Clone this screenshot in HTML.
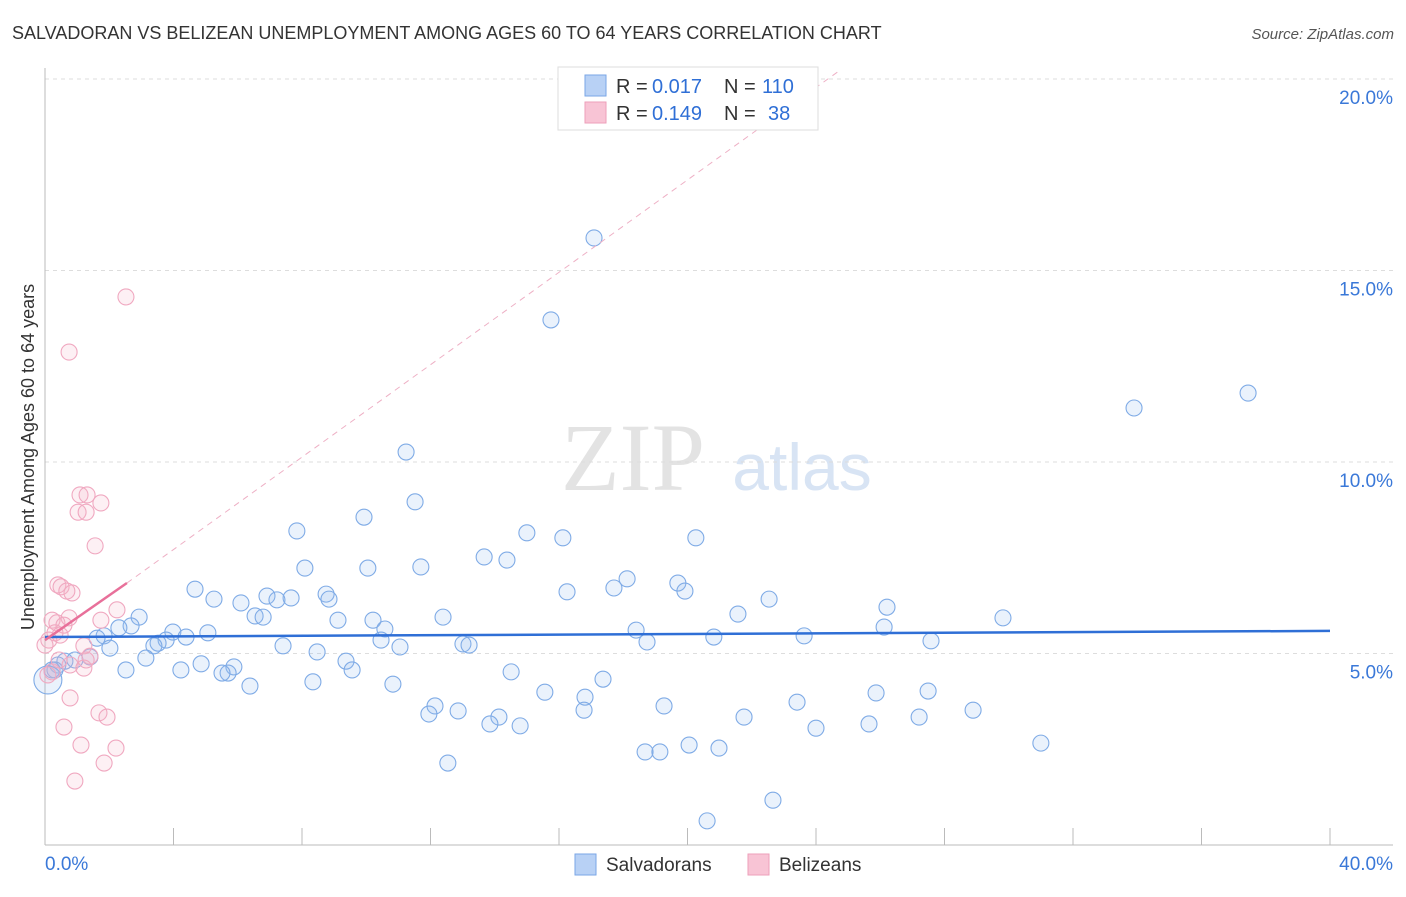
<!DOCTYPE html>
<html><head><meta charset="utf-8"><style>
body{margin:0;background:#fff;font-family:"Liberation Sans",sans-serif;}
svg text{font-family:"Liberation Sans",sans-serif;}
</style></head><body>
<svg id="chart" width="1406" height="892" viewBox="0 0 1406 892" xmlns="http://www.w3.org/2000/svg">
<text x="12" y="39" font-size="18" fill="#333">SALVADORAN VS BELIZEAN UNEMPLOYMENT AMONG AGES 60 TO 64 YEARS CORRELATION CHART</text>
<text x="1394" y="39" font-size="15" fill="#555" text-anchor="end" font-style="italic">Source: ZipAtlas.com</text>
<g>
<text x="633" y="490" font-size="96" fill="#e3e3e3" text-anchor="middle" style="font-family:'Liberation Serif',serif">ZIP</text>
<text x="802" y="490" font-size="66" fill="#d8e4f4" text-anchor="middle">atlas</text>
</g>
<g id="grid"></g>
<g id="axes"></g>
<g id="marks"></g>
<text transform="translate(34,457) rotate(-90)" font-size="18" fill="#333" text-anchor="middle">Unemployment Among Ages 60 to 64 years</text>
<g>
<rect x="558" y="67" width="260" height="63" fill="#fff" stroke="#ddd"/>
<rect x="585" y="75" width="21" height="21" fill="#b8d1f5" stroke="#7aa6e6"/>
<rect x="585" y="102" width="21" height="21" fill="#f8c4d5" stroke="#ee9fba"/>
<text x="616" y="93" font-size="20" fill="#333">R =</text>
<text x="652" y="93" font-size="20" fill="#2f6fd6">0.017</text>
<text x="724" y="93" font-size="20" fill="#333">N =</text>
<text x="762" y="93" font-size="20" fill="#2f6fd6">110</text>
<text x="616" y="120" font-size="20" fill="#333">R =</text>
<text x="652" y="120" font-size="20" fill="#2f6fd6">0.149</text>
<text x="724" y="120" font-size="20" fill="#333">N =</text>
<text x="768" y="120" font-size="20" fill="#2f6fd6">38</text>
</g>
<g>
<rect x="575" y="854" width="21" height="21" fill="#b8d1f5" stroke="#7aa6e6"/>
<text x="606" y="871" font-size="19" fill="#333">Salvadorans</text>
<rect x="748" y="854" width="21" height="21" fill="#f8c4d5" stroke="#ee9fba"/>
<text x="779" y="871" font-size="19" fill="#333">Belizeans</text>
</g>
</svg>
<script>
const yTicks=[5,10,15,20];
const yTickLabels=["5.0%","10.0%","15.0%","20.0%"];
const xTickVals=[0,4,8,12,16,20,24,28,32,36,40];
const blueX=[17.09,15.75,33.90,37.45,11.24,11.52,9.93,7.84,15.00,16.12,20.26,13.67,14.38,8.09,10.05,11.70,18.12,19.70,4.67,16.25,17.71,19.92,8.75,6.91,7.66,5.26,7.22,8.84,6.10,22.54,26.21,2.93,6.54,6.79,9.12,12.39,10.21,21.57,29.82,2.68,26.12,1.84,10.58,18.40,3.98,5.07,2.30,1.62,4.39,3.77,3.52,3.39,10.46,23.63,20.82,27.58,18.74,7.41,13.01,13.20,11.05,2.02,8.47,3.14,9.37,1.40,0.62,0.40,0.93,0.22,4.86,5.88,4.23,9.56,2.52,14.51,5.70,5.51,8.34,17.37,6.38,10.83,15.56,25.87,27.49,16.81,12.14,23.41,19.27,16.78,12.86,28.89,11.95,14.13,21.76,27.21,13.85,14.79,25.65,24.00,31.00,20.05,20.98,18.68,19.14,12.54,22.66,20.61,0.31,0.09];
const blueY=[15.85,13.71,11.41,11.80,10.26,8.96,8.56,8.20,8.15,8.02,8.02,7.52,7.44,7.23,7.23,7.26,6.95,6.84,6.68,6.61,6.71,6.63,6.55,6.50,6.45,6.42,6.40,6.42,6.32,6.42,6.21,5.95,5.98,5.95,5.87,5.95,5.87,6.03,5.93,5.72,5.69,5.46,5.64,5.61,5.56,5.54,5.67,5.40,5.43,5.35,5.27,5.20,5.35,5.46,5.43,5.33,5.30,5.20,5.25,5.22,5.17,5.14,5.04,4.88,4.80,4.91,4.80,4.70,4.83,4.57,4.73,4.65,4.57,4.57,4.57,4.52,4.49,4.49,4.26,4.33,4.15,4.20,3.99,3.97,4.02,3.86,3.63,3.73,3.63,3.52,3.50,3.52,3.42,3.34,3.34,3.34,3.16,3.11,3.16,3.05,2.66,2.61,2.53,2.43,2.43,2.14,1.17,0.63,4.57,4.31];
const pinkX=[2.52,0.75,1.09,1.31,1.74,1.03,1.28,1.56,0.40,0.50,0.84,0.68,2.24,0.75,1.74,0.22,0.37,0.59,0.31,0.12,0.47,1.21,1.40,0.78,1.21,0.22,0.78,1.68,1.93,0.59,1.12,2.21,1.84,0.93,0.09,1.28,0.44,0.0];
const pinkY=[14.31,12.87,9.14,9.14,8.93,8.69,8.69,7.81,6.79,6.74,6.58,6.63,6.14,5.93,5.87,5.87,5.80,5.74,5.54,5.35,5.48,5.20,4.93,4.70,4.62,4.52,3.84,3.45,3.34,3.08,2.61,2.53,2.14,1.67,4.44,4.83,4.83,5.22];
const blueTrend=[[0,5.43],[40,5.59]];
const pinkTrend=[[0,5.35],[2.55,6.84]];
const pinkDash=[[2.55,6.84],[24.7,20.2]];

const NS="http://www.w3.org/2000/svg";
const X0=45,X1=1330,Y0=845,PY=38.3;
const sx=v=>X0+(v/40)*(X1-X0);
const sy=v=>Y0-v*PY;
function mk(tag,attrs,parent){const e=document.createElementNS(NS,tag);for(const k in attrs)e.setAttribute(k,attrs[k]);parent.appendChild(e);return e;}
const grid=document.getElementById('grid'),axes=document.getElementById('axes'),marks=document.getElementById('marks');
yTicks.forEach((t,i)=>{
  const l=mk('line',{x1:X0,x2:1393,y1:sy(t),y2:sy(t),stroke:'#ddd','stroke-dasharray':'4,4'},grid);
  
  
  const tx=mk('text',{x:1393,y:sy(t)+25,'font-size':19,fill:'#3a78d8','text-anchor':'end'},axes);
  tx.textContent=yTickLabels[i];
  
  
});
let a=mk('line',{x1:X0,x2:X0,y1:68,y2:Y0,stroke:'#bbb'},axes);


a=mk('line',{x1:X0,x2:1393,y1:Y0,y2:Y0,stroke:'#bbb'},axes);


xTickVals.forEach(v=>{
  const t=mk('line',{x1:sx(v),x2:sx(v),y1:828,y2:Y0,stroke:'#bbb'},axes);
  
  
});
let xl=mk('text',{x:45,y:870,'font-size':19,fill:'#3a78d8'},axes);xl.textContent='0.0%';


xl=mk('text',{x:1393,y:870,'font-size':19,fill:'#3a78d8','text-anchor':'end'},axes);xl.textContent='40.0%';



blueX.forEach((x,i)=>{
  const big=i===blueX.length-1;
  const c=mk('circle',{cx:sx(x),cy:sy(blueY[i]),r:big?14:8,fill:'rgba(150,190,240,0.2)',stroke:'#7fabe6','stroke-width':1.1},marks);
  
  
});
pinkX.forEach((x,i)=>{
  const c=mk('circle',{cx:sx(x),cy:sy(pinkY[i]),r:8,fill:'rgba(245,180,200,0.2)',stroke:'#f0a8c0','stroke-width':1.1},marks);
  
  
});
let tl=mk('line',{x1:sx(pinkDash[0][0]),y1:sy(pinkDash[0][1]),x2:sx(pinkDash[1][0]),y2:sy(pinkDash[1][1]),stroke:'#eeb0c5','stroke-dasharray':'6,5','stroke-width':1},marks);


tl=mk('line',{x1:sx(blueTrend[0][0]),y1:sy(blueTrend[0][1]),x2:sx(blueTrend[1][0]),y2:sy(blueTrend[1][1]),stroke:'#2f6fd6','stroke-width':2.5},marks);


tl=mk('line',{x1:sx(pinkTrend[0][0]),y1:sy(pinkTrend[0][1]),x2:sx(pinkTrend[1][0]),y2:sy(pinkTrend[1][1]),stroke:'#e8709a','stroke-width':2.5},marks);


</script>
</body></html>
